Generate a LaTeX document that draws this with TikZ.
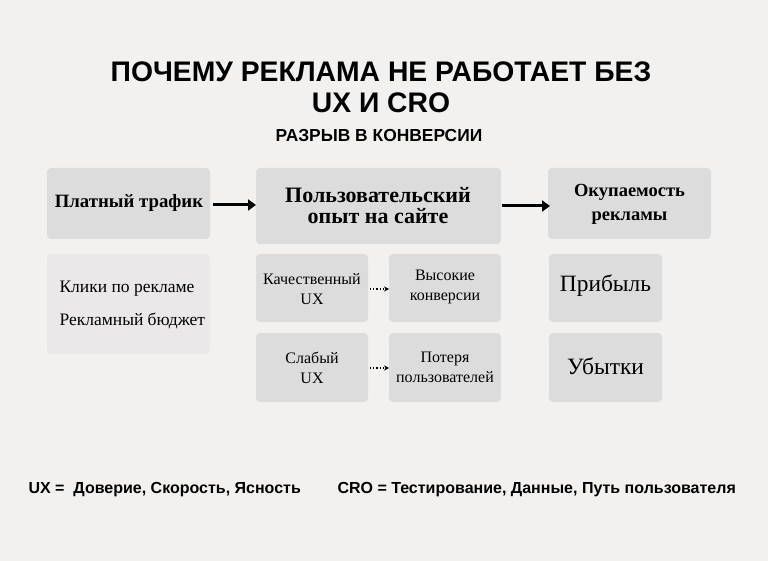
\documentclass[tikz,border=0pt]{standalone}
\usepackage{fontspec}
\setmainfont{Liberation Serif}
\newfontfamily\hd{Liberation Sans}
\usetikzlibrary{arrows.meta}
\definecolor{bg}{HTML}{F2F1F0}
\definecolor{bx}{HTML}{DCDCDC}
\definecolor{bxl}{HTML}{EAE8E9}
\begin{document}
\begin{tikzpicture}[x=1pt,y=-1pt,
  card/.style={fill=bx,rounded corners=4pt,draw=none},
  lcard/.style={fill=bxl,rounded corners=4pt,draw=none},
  bigarr/.style={line width=3pt,-{Triangle[length=8pt,width=11pt]}},
  dotarr/.style={line width=1.2pt,dotted,-{Stealth[length=5pt,width=5pt]}}]
\fill[bg] (0,0) rectangle (768,561);
\useasboundingbox (0,0) rectangle (768,561);
\node[font=\hd\bfseries\fontsize{28.3}{31}\selectfont,align=center] (t) at (381,87) {ПОЧЕМУ РЕКЛАМА НЕ РАБОТАЕТ БЕЗ\\UX И CRO};
\node[font=\hd\bfseries\fontsize{17.4}{20}\selectfont] (st) at (379,136) {РАЗРЫВ В КОНВЕРСИИ};
\fill[card] (47,168) rectangle (210,239);
\fill[card] (256,168) rectangle (501,244);
\fill[card] (548,168) rectangle (711,239);
\fill[lcard] (47,254) rectangle (210,354);
\fill[card] (256,254) rectangle (368,322);
\fill[card] (389,254) rectangle (501,322);
\fill[card] (256,333) rectangle (368,402);
\fill[card] (389,333) rectangle (501,402);
\fill[card] (549,254) rectangle (662,322);
\fill[card] (549,333) rectangle (662,402);
\node[font=\bfseries\fontsize{18.8}{20}\selectfont] (a) at (129,203) {Платный трафик};
\node[font=\bfseries\fontsize{22}{21}\selectfont,align=center] (b) at (378,206) {Пользовательский\\опыт на сайте};
\node[font=\bfseries\fontsize{18.5}{24}\selectfont,align=center] (c) at (629.5,204) {Окупаемость\\рекламы};
\node[font=\fontsize{17.5}{33}\selectfont,align=left,anchor=west] (l) at (56,305) {Клики по рекламе\\Рекламный бюджет};
\node[font=\fontsize{16}{20}\selectfont,align=center] (q) at (312,289) {Качественный\\UX};
\node[font=\fontsize{16}{20}\selectfont,align=center] (h) at (445,287) {Высокие\\конверсии};
\node[font=\fontsize{16}{20}\selectfont,align=center] (w) at (312,368) {Слабый\\UX};
\node[font=\fontsize{16}{20}\selectfont,align=center] (p) at (445,367) {Потеря\\пользователей};
\node[font=\fontsize{23.4}{24}\selectfont] (pr) at (605.5,286) {Прибыль};
\node[font=\fontsize{23.4}{24}\selectfont] (ub) at (605.5,366) {Убытки};
\coordinate (a1) at (213,205); \coordinate (a2) at (256,205);
\coordinate (b1) at (502,206); \coordinate (b2) at (550,206);
\draw[bigarr] (a1) -- (a2);
\draw[bigarr] (b1) -- (b2);
\coordinate (q1) at (370,289); \coordinate (q2) at (389,289);
\coordinate (w1) at (370,368); \coordinate (w2) at (389,368);
\draw[dotarr] (q1) -- (q2);
\draw[dotarr] (w1) -- (w2);
\node[font=\hd\bfseries\fontsize{16}{19}\selectfont,anchor=west] (f1) at (25,490) {UX =\ \ Доверие, Скорость, Ясность};
\node[font=\hd\bfseries\fontsize{16}{19}\selectfont,anchor=west] (f2) at (334,490) {CRO = Тестирование, Данные, Путь пользователя};
\end{tikzpicture}
\end{document}
